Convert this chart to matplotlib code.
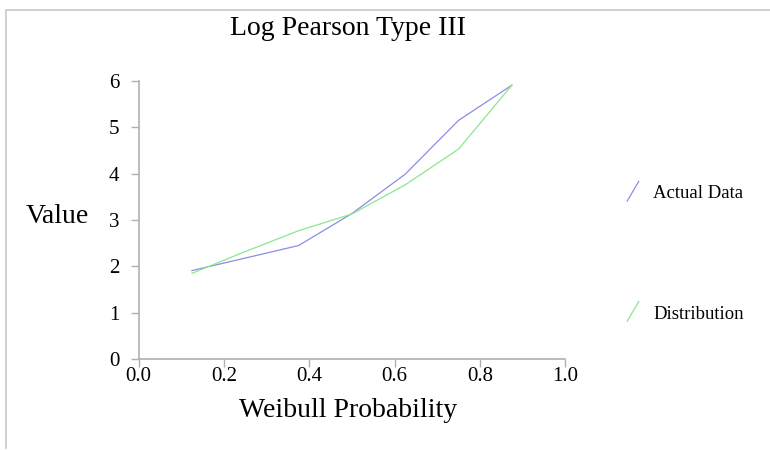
import matplotlib.pyplot as plt
from matplotlib.lines import Line2D

plt.rcParams['font.family'] = ['Liberation Serif', 'DejaVu Serif']

weibull_prob = [0.125, 0.25, 0.375, 0.5, 0.625, 0.75, 0.875]
actual_data = [1.91, 2.18, 2.45, 3.14, 3.99, 5.15, 5.91]
distribution = [1.85, 2.32, 2.77, 3.13, 3.76, 4.53, 5.91]
series_names = ["Actual Data", "Distribution"]
series_colors = ["#8c8ce6", "#8ce68c"]
x_ticks = [0.0, 0.2, 0.4, 0.6, 0.8, 1.0]
y_ticks = [0, 1, 2, 3, 4, 5, 6]

fig = plt.figure(figsize=(7.7, 4.5), dpi=100)
ax = fig.add_axes([0.180, 0.202, 0.554, 0.618])

ax.plot(weibull_prob, actual_data, color=series_colors[0], lw=0.9)
ax.plot(weibull_prob, distribution, color=series_colors[1], lw=0.9)

ax.set_xlim(0, 1)
ax.set_ylim(0, 6)
ax.set_xticks(x_ticks)
ax.set_xticklabels(["%.1f" % t for t in x_ticks])
ax.set_yticks(y_ticks)
ax.set_yticklabels([str(t) for t in y_ticks])
for s in ["top", "right"]:
    ax.spines[s].set_visible(False)
for s in ["left", "bottom"]:
    ax.spines[s].set_color("#b0b0b0")
    ax.spines[s].set_linewidth(1.2)
ax.tick_params(direction="out", length=6, width=1.0, color="#b0b0b0",
               labelsize=15)
ax.tick_params(axis="x", pad=0)
ax.tick_params(axis="y", pad=8)

fig.text(0.452, 0.922, "Log Pearson Type III", fontsize=20, ha="center", va="baseline")
fig.text(0.452, 0.073, "Weibull Probability", fontsize=20, ha="center", va="baseline")
fig.text(0.075, 0.504, "Value", fontsize=20, ha="center", va="baseline")

# legend: short slanted strokes with labels
legend_y = [0.575, 0.308]
text_y = [0.560, 0.291]
for name, col, yy, ty in zip(series_names, series_colors, legend_y, text_y):
    fig.add_artist(Line2D([0.8145, 0.8295], [yy - 0.022, yy + 0.022],
                          transform=fig.transFigure, color=col, lw=0.9))
    fig.text(0.848, ty, name, fontsize=13.5, ha="left", va="baseline")

# outer frame
fig.add_artist(Line2D([0.008, 0.008, 1.0], [0.005, 0.978, 0.978],
                      transform=fig.transFigure, color="#c8c8c8", lw=1.2))

fig.savefig("out.png", dpi=100)
